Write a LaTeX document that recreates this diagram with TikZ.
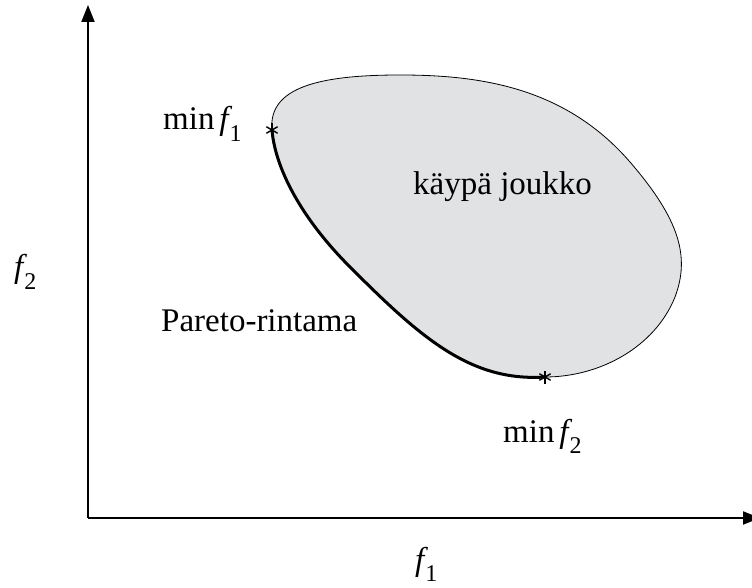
\documentclass[tikz,border=0pt]{standalone}
\usepackage{fontspec}
\setmainfont{Liberation Serif}
\usetikzlibrary{arrows.meta}
\definecolor{feas}{RGB}{225,226,228}
\newcommand{\fsub}[1]{{\itshape f}\kern1pt\raisebox{-0.35em}{\fontsize{24}{24}\selectfont #1}}
\tikzset{
  lbl/.style={font=\fontsize{33}{40}\selectfont, inner sep=0pt, anchor=base west},
  axis/.style={line width=2pt, -{Triangle[width=13pt,length=17pt]}},
  spoke/.style={line width=1.4pt}
}
\begin{document}
\begin{tikzpicture}[x=1pt,y=1pt]
\useasboundingbox (0,0) rectangle (752,587);
\coordinate (O) at (88,69);
\coordinate (ytop) at (88,582);
\coordinate (xtop) at (760,69);
\coordinate (A) at (272,457);
\coordinate (B) at (545,210);
% feasible set
\fill[feas] (A) .. controls (268,500) and (320,512) .. (400,512)
  .. controls (480,512) and (565,500) .. (630,425)
  .. controls (680,367) and (690,330) .. (675,290)
  .. controls (655,240) and (600,210) .. (B)
  .. controls (470,205) and (420,250) .. (350,320)
  .. controls (300,370) and (275,420) .. (A) -- cycle;
\draw[line width=0.8pt] (A) .. controls (268,500) and (320,512) .. (400,512)
  .. controls (480,512) and (565,500) .. (630,425)
  .. controls (680,367) and (690,330) .. (675,290)
  .. controls (655,240) and (600,210) .. (B);
\draw[line width=3pt] (B) .. controls (470,205) and (420,250) .. (350,320)
  .. controls (300,370) and (275,420) .. (A);
% axes
\draw[axis] (O) -- (ytop);
\draw[axis] (O) -- (xtop);
% markers
\node[inner sep=0pt] (s1) at (A) {};
\node[inner sep=0pt] (s2) at (B) {};
\foreach \a in {90,150,210,270,330,30}{
  \draw[spoke] (s1.center) -- ++(\a:6.5);
  \draw[spoke] (s2.center) -- ++(\a:6.5);
}
% labels
\node[lbl] (m1) at (163,457) {min\kern0.15em\fsub{1}};
\node[lbl] (kj) at (413,392) {käypä joukko};
\node[lbl] (f2) at (14,309) {\fsub{2}};
\node[lbl] (pr) at (161,255) {Pareto-rintama};
\node[lbl] (m2) at (503,145) {min\kern0.15em\fsub{2}};
\node[lbl] (f1) at (415,17) {\fsub{1}};
\end{tikzpicture}
\end{document}
